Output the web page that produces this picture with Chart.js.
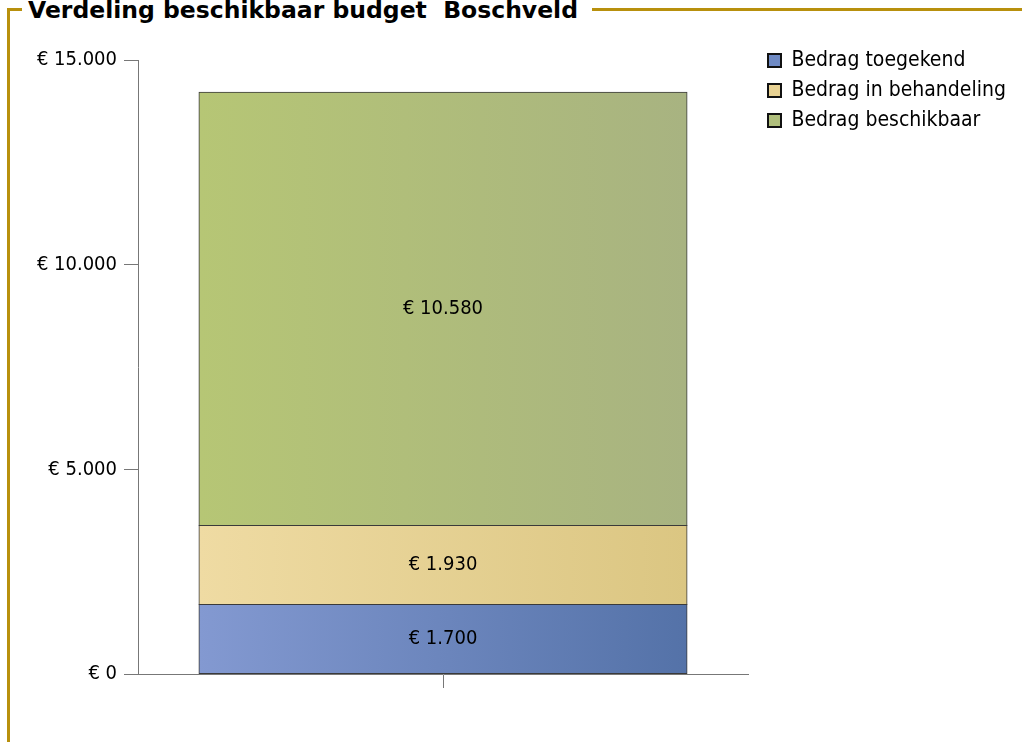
<!DOCTYPE html>
<html>
<head>
<meta charset="utf-8">
<title>Verdeling beschikbaar budget Boschveld</title>
<script src="https://cdn.jsdelivr.net/npm/chart.js@4.4.1/dist/chart.umd.min.js"></script>
<style>
  html, body { margin: 0; padding: 0; background: #fff; }
  body { width: 1022px; height: 742px; position: relative; overflow: hidden;
         font-family: "DejaVu Sans Condensed", "DejaVu Sans", sans-serif; }
  .frame { position: absolute; left: 7px; top: 8px; width: 1040px; height: 760px;
           border-left: 3px solid #b8900d; border-top: 3px solid #b8900d; }
  .title { position: absolute; left: 22px; top: -1px; padding: 0 14px 0 6px; background: #fff;
           font-family: "DejaVu Sans", sans-serif; font-weight: bold; font-size: 23.5px;
           line-height: 23.5px; white-space: pre; color: #000; }
  #myChart { position: absolute; left: 0; top: 0; }
</style>
</head>
<body>
<div class="frame"></div>
<div class="title">Verdeling beschikbaar budget  Boschveld</div>
<canvas id="myChart" width="1022" height="742"></canvas>
<script>
// data
const categories = ["Boschveld"];
const seriesNames = ["Bedrag toegekend", "Bedrag in behandeling", "Bedrag beschikbaar"];
const toegekend = [1700];
const inBehandeling = [1930];
const beschikbaar = [10580];
const yTicks = [0, 5000, 10000, 15000];

// colours: left / right of the gradient, and the legend swatch
const blueStops = ["#8399d1", "#5472a8"];
const yellowStops = ["#efdba3", "#dbc682"];
const greenStops = ["#b6c675", "#a8b381"];
const legendColors = ["#6f8ac4", "#e8d293", "#b0bf7c"];

const FONT = '"DejaVu Sans Condensed", "DejaVu Sans", sans-serif';
const LEGEND_SIZE = 21;
Chart.defaults.font.family = FONT;
Chart.defaults.font.size = 20;
Chart.defaults.color = "#000";

// legend width, so the plot can end at the same place as in the original
const measure = document.createElement("canvas").getContext("2d");
measure.font = LEGEND_SIZE + "px " + FONT;
const legendTextW = Math.max(...seriesNames.map((s) => measure.measureText(s).width));
const legendW = 9 + 13 + LEGEND_SIZE / 2 + legendTextW + 10;
const padRight = Math.max(0, 1022 - 748 - 11 - legendW);

function euro(v) {
  return "€ " + String(v).replace(/\B(?=(\d{3})+(?!\d))/g, ".");
}

function barFill(stops) {
  return (ctx) => {
    const area = ctx.chart.chartArea;
    if (!area) return stops[0];
    const w = area.right - area.left;
    const g = ctx.chart.ctx.createLinearGradient(area.left + w * 0.1, 0, area.right - w * 0.1, 0);
    g.addColorStop(0, stops[0]);
    g.addColorStop(1, stops[1]);
    return g;
  };
}

// value in the middle of each stacked segment
const segmentLabels = {
  id: "segmentLabels",
  afterDatasetsDraw(chart) {
    const c = chart.ctx;
    c.save();
    c.font = "20px " + FONT;
    c.fillStyle = "#000";
    c.textAlign = "center";
    c.textBaseline = "middle";
    chart.data.datasets.forEach((ds, i) => {
      chart.getDatasetMeta(i).data.forEach((bar, j) => {
        const p = bar.getProps(["x", "y", "base"], true);
        c.fillText(euro(ds.data[j]), p.x, (p.y + p.base) / 2);
      });
    });
    c.restore();
  },
};

const common = {
  borderColor: "#3a3a3a",
  borderWidth: 1,
  borderSkipped: false,
  inflateAmount: 0.5,
  barPercentage: 0.8,
  categoryPercentage: 1,
};

const data = {
  labels: categories,
  datasets: [
    { label: seriesNames[0], data: toegekend, backgroundColor: barFill(blueStops), ...common },
    { label: seriesNames[1], data: inBehandeling, backgroundColor: barFill(yellowStops), ...common },
    { label: seriesNames[2], data: beschikbaar, backgroundColor: barFill(greenStops), ...common },
  ],
};

const config = {
  type: "bar",
  data,
  plugins: [segmentLabels],
  options: {
    responsive: false,
    animation: false,
    layout: { padding: { top: 41, right: padRight, bottom: 54, left: 0 } },
    plugins: {
      tooltip: { enabled: false },
      // empty spacer so the plot starts below the legend's first row
      title: { display: true, text: "", fullSize: false, padding: 0, font: { size: 19, lineHeight: 1 } },
      legend: {
        position: "right",
        align: "start",
        maxWidth: 400,
        labels: {
          boxWidth: 13,
          boxHeight: 13,
          padding: 9,
          font: { size: LEGEND_SIZE },
          generateLabels(chart) {
            const items = Chart.defaults.plugins.legend.labels.generateLabels(chart);
            items.forEach((it, i) => {
              it.fillStyle = legendColors[i];
              it.strokeStyle = "#111";
              it.lineWidth = 2;
            });
            return items;
          },
        },
      },
    },
    scales: {
      x: {
        stacked: true,
        offset: true,
        grid: { display: true, drawOnChartArea: false, offset: false, tickLength: 14, color: "#777" },
        border: { color: "#777" },
        ticks: { display: false },
        afterFit: (s) => { s.height = 14; },
      },
      y: {
        stacked: true,
        min: 0,
        max: 15000,
        afterBuildTicks: (s) => { s.ticks = yTicks.map((v) => ({ value: v })); },
        ticks: { padding: 7, color: "#000", callback: (v) => euro(v) },
        grid: { drawOnChartArea: false, tickLength: 14, color: "#777" },
        border: { color: "#777" },
        afterFit: (s) => { s.width = 138; },
      },
      // gap between the plot and the legend
      yPad: {
        position: "right",
        display: true,
        grid: { display: false },
        ticks: { display: false },
        border: { display: false },
        afterFit: (s) => { s.width = 11; },
      },
    },
  },
};

const myChart = new Chart(document.getElementById("myChart"), config);
</script>
</body>
</html>
